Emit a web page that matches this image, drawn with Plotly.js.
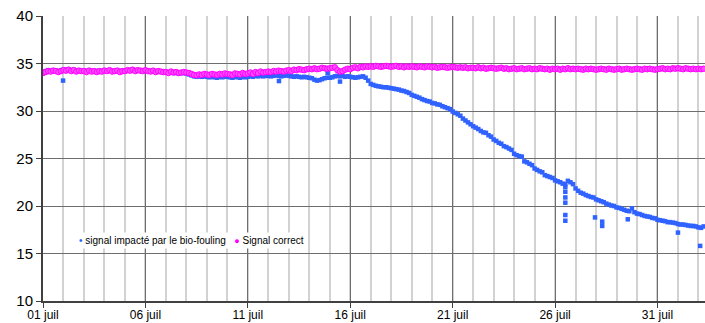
<!DOCTYPE html>
<html>
<head>
<meta charset="utf-8">
<script src="https://cdn.plot.ly/plotly-3.0.1.min.js"></script>
<style>html,body{margin:0;padding:0;background:#fff;}#chart{width:705px;height:323px;}</style>
</head>
<body>
<div id="chart"></div>
<script>
// ---- data ----
const seriesNames = ['signal impacté par le bio-fouling', 'Signal correct'];
const startDate = '2011-07-01';
const sampleHours = 3;
const tickVals = ['2011-07-01','2011-07-06','2011-07-11','2011-07-16','2011-07-21','2011-07-26','2011-07-31'];
const tickLabels = ['01 juil','06 juil','11 juil','16 juil','21 juil','26 juil','31 juil'];
const xRange = ['2011-07-01 00:00', '2011-08-02 07:40'];
const yRange = [10, 40];

// signal impacté par le bio-fouling (3-hourly readings)
const impactedValues = [
 34.1,34.2,34.3,34.2,34.3,34.25,34.2,34.3,
 34.35,34.3,34.4,34.25,34.35,34.2,34.3,34.25,
 34.25,34.2,34.3,34.2,34.25,34.15,34.25,34.2,
 34.3,34.25,34.3,34.2,34.25,34.3,34.15,34.25,
 34.25,34.3,34.3,34.35,34.25,34.3,34.3,34.25,
 34.3,34.25,34.2,34.25,34.15,34.2,34.15,34.1,
 34.1,34.05,34.1,34.0,34.05,33.95,34.0,34.0,
 33.95,33.85,33.75,33.65,33.6,33.65,33.6,33.65,
 33.6,33.55,33.6,33.55,33.5,33.6,33.55,33.6,
 33.6,33.55,33.5,33.6,33.55,33.5,33.6,33.55,
 33.6,33.65,33.6,33.7,33.65,33.7,33.65,33.7,
 33.7,33.65,33.7,33.75,33.7,33.65,33.7,33.75,
 33.7,33.65,33.6,33.65,33.6,33.55,33.6,33.55,
 33.5,33.45,33.3,33.2,33.25,33.35,33.45,33.5,
 33.5,33.55,33.65,33.7,33.65,33.7,33.6,33.65,
 33.6,33.55,33.5,33.55,33.6,33.65,33.5,33.2,
 32.85,32.75,32.65,32.6,32.55,32.5,32.5,32.45,
 32.4,32.35,32.3,32.25,32.15,32.1,32.0,31.9,
 31.7,31.6,31.5,31.4,31.25,31.15,31.05,31.0,
 30.85,30.8,30.7,30.65,30.5,30.4,30.3,30.2,
 29.95,29.8,29.65,29.5,29.2,29.0,28.8,28.6,
 28.4,28.25,28.1,27.9,27.75,27.7,27.45,27.3,
 27.0,26.85,26.65,26.55,26.3,26.2,26.05,25.9,
 25.5,25.35,25.25,25.2,24.7,24.6,24.45,24.3,
 23.95,23.8,23.65,23.55,23.25,23.15,23.05,22.95,
 22.7,22.6,22.5,22.35,22.3,22.65,22.5,22.3,
 21.85,21.6,21.4,21.3,21.15,21.05,20.95,20.9,
 20.7,20.6,20.5,20.4,20.25,20.15,20.05,20.0,
 19.85,19.8,19.7,19.6,19.5,19.45,19.75,19.35,
 19.2,19.15,19.05,18.95,18.9,18.85,18.75,18.7,
 18.55,18.5,18.45,18.4,18.3,18.3,18.25,18.2,
 18.1,18.05,18.05,18.0,17.95,17.9,17.9,17.85,
 17.75,17.7,17.85
];
// isolated readings of the impacted signal
const impactedOutlierTimes = ['2011-07-01 23:30','2011-07-12 12:30','2011-07-14 21:30','2011-07-15 12:00',
 '2011-07-26 12:00','2011-07-26 12:00','2011-07-26 12:00','2011-07-26 12:00','2011-07-26 12:00','2011-07-26 12:00',
 '2011-07-27 22:48','2011-07-28 07:12','2011-07-28 07:12','2011-07-29 13:12','2011-08-01 00:00','2011-08-02 02:00'];
const impactedOutlierValues = [33.2,33.15,34.0,33.1,22.0,21.5,20.9,20.35,19.05,18.45,18.8,18.35,17.9,18.6,17.2,15.8];

// Signal correct (3-hourly readings)
const correctValues = [
 34.0,34.1,34.2,34.15,34.25,34.2,34.1,34.2,
 34.3,34.25,34.35,34.2,34.3,34.15,34.25,34.2,
 34.2,34.1,34.25,34.15,34.2,34.1,34.2,34.15,
 34.25,34.2,34.3,34.15,34.2,34.25,34.1,34.2,
 34.2,34.3,34.25,34.35,34.2,34.3,34.25,34.2,
 34.3,34.2,34.15,34.25,34.1,34.2,34.15,34.1,
 34.1,34.0,34.15,34.05,34.1,34.0,34.05,34.1,
 34.05,34.0,33.9,33.8,33.75,33.85,33.8,33.9,
 33.85,33.8,33.9,33.85,33.8,33.9,33.85,33.95,
 33.9,33.85,33.8,33.95,33.9,33.85,34.0,33.9,
 33.95,34.05,33.9,34.1,34.0,34.15,34.05,34.1,
 34.15,34.1,34.2,34.15,34.25,34.2,34.15,34.25,
 34.3,34.2,34.35,34.3,34.4,34.35,34.3,34.4,
 34.45,34.4,34.5,34.4,34.45,34.55,34.5,34.45,
 34.5,34.55,34.6,34.3,34.15,34.2,34.35,34.45,
 34.4,34.55,34.6,34.5,34.65,34.6,34.7,34.65,
 34.7,34.65,34.75,34.7,34.65,34.7,34.75,34.7,
 34.65,34.7,34.75,34.65,34.7,34.6,34.7,34.65,
 34.7,34.65,34.6,34.7,34.65,34.6,34.7,34.65,
 34.6,34.65,34.55,34.6,34.65,34.6,34.55,34.6,
 34.65,34.6,34.55,34.6,34.55,34.6,34.5,34.55,
 34.55,34.5,34.6,34.5,34.55,34.45,34.5,34.55,
 34.5,34.45,34.5,34.55,34.45,34.5,34.4,34.45,
 34.5,34.4,34.45,34.5,34.4,34.45,34.5,34.4,
 34.45,34.4,34.5,34.45,34.4,34.45,34.35,34.45,
 34.4,34.45,34.35,34.45,34.4,34.5,34.4,34.45,
 34.4,34.45,34.4,34.35,34.45,34.4,34.45,34.4,
 34.35,34.4,34.45,34.4,34.35,34.45,34.4,34.35,
 34.4,34.45,34.35,34.4,34.45,34.4,34.35,34.4,
 34.45,34.4,34.35,34.45,34.4,34.45,34.4,34.35,
 34.4,34.45,34.5,34.4,34.45,34.4,34.5,34.45,
 34.5,34.45,34.4,34.5,34.45,34.4,34.45,34.4,
 34.45,34.4,34.45
];

const colors = { impacted: '#2f62ff', correct: '#ff00ff' };

// ---- build ----
function sampleTimes(n) {
  const t0 = Date.parse(startDate + 'T00:00:00Z');
  const out = [];
  for (let i = 0; i < n; i++) {
    out.push(new Date(t0 + i * sampleHours * 3600000).toISOString().slice(0, 16).replace('T', ' '));
  }
  return out;
}

const impactedTrace = {
  type: 'scatter', mode: 'markers', name: seriesNames[0],
  x: sampleTimes(impactedValues.length).concat(impactedOutlierTimes),
  y: impactedValues.concat(impactedOutlierValues),
  marker: { color: colors.impacted, size: 4.5, symbol: 'square' }
};
const correctTrace = {
  type: 'scatter', mode: 'markers', name: seriesNames[1],
  x: sampleTimes(correctValues.length), y: correctValues,
  marker: { color: '#ff4dff', size: 5.5, symbol: 'circle', line: { color: colors.correct, width: 1 } }
};

const legendText =
  '<span style="color:' + colors.impacted + '">•</span> ' + seriesNames[0] +
  '   <span style="color:' + colors.correct + ';font-size:9px">●</span> ' + seriesNames[1];

const layout = {
  width: 705, height: 323,
  margin: { l: 43, r: 0, t: 16, b: 22 },
  paper_bgcolor: '#ffffff', plot_bgcolor: '#ffffff',
  showlegend: false,
  font: { family: '"Liberation Sans", Arial, sans-serif', color: '#000000' },
  xaxis: {
    type: 'date', range: xRange, fixedrange: true,
    tickmode: 'array', tickvals: tickVals, ticktext: tickLabels,
    ticks: 'outside', ticklen: 5, tickwidth: 1, tickcolor: '#404040',
    tickfont: { size: 12, color: '#000' },
    ticklabelstandoff: -3,
    showgrid: true, gridcolor: '#6e6e6e', gridwidth: 1,
    showline: true, linecolor: '#404040', linewidth: 2,
    zeroline: false,
    minor: { tickmode: 'linear', tick0: startDate, dtick: 86400000, showgrid: true, gridcolor: '#d2d2d2', gridwidth: 2, ticks: '' }
  },
  yaxis: {
    range: yRange, tick0: 10, dtick: 5, fixedrange: true,
    ticks: 'outside', ticklen: 5, tickwidth: 1, tickcolor: '#404040',
    tickfont: { size: 15, color: '#000' },
    showgrid: true, gridcolor: '#6e6e6e', gridwidth: 1,
    showline: true, linecolor: '#404040', linewidth: 2,
    zeroline: false
  },
  annotations: [{
    xref: 'paper', yref: 'y', x: 0.05, y: 16.35, xanchor: 'left', yanchor: 'middle',
    text: legendText, showarrow: false, align: 'left',
    bgcolor: '#ffffff', borderpad: 2,
    font: { size: 10, color: '#000' }
  }]
};

Plotly.newPlot('chart', [impactedTrace, correctTrace], layout, { displayModeBar: false, staticPlot: true });
</script>
</body>
</html>
